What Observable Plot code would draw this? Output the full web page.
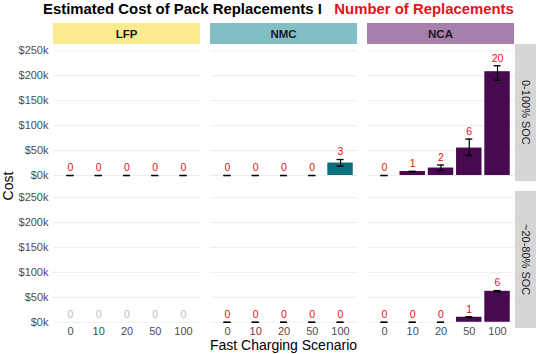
<!DOCTYPE html>
<html>
<head>
<meta charset="utf-8">
<script src="https://cdn.jsdelivr.net/npm/d3@7"></script>
<script src="https://cdn.jsdelivr.net/npm/@observablehq/plot@0.6"></script>
<style>
  html, body { margin: 0; padding: 0; background: #fff; }
  #wrap { position: relative; width: 537px; height: 354px; overflow: hidden; font-family: "Liberation Sans", Arial, sans-serif; }
  #wrap svg { position: absolute; left: 0; top: 0; }
  .title { position: absolute; top: 1px; left: 43px; font-size: 14.9px; font-weight: bold; line-height: 17px; white-space: pre; color: #000; }
  .title .red { color: #e8101a; }
  .strip { position: absolute; display: flex; align-items: center; justify-content: center; color: #1a1a1a; }
  .strip.top { font-size: 11.5px; font-weight: bold; }
  .strip.right { font-size: 11px; writing-mode: vertical-rl; background: #d6d6d6; }
  .axtitle { position: absolute; font-size: 14px; color: #000; white-space: nowrap; }
</style>
</head>
<body>
<div id="wrap"></div>
<script>
// ---- data ----
const scenarios = ["0", "10", "20", "50", "100"];
const chemistries = ["LFP", "NMC", "NCA"];
const socs = ["0-100% SOC", "~20-80% SOC"];
const stripColors = ["#fbeb8f", "#82bfc5", "#a680ab"];
const barColors = ["#e0c341", "#0c6f7b", "#480a4f"];

// panels in order: row 0-100% SOC (LFP, NMC, NCA), then row ~20-80% SOC (LFP, NMC, NCA)
const panelChem = ["LFP", "NMC", "NCA", "LFP", "NMC", "NCA"];
const panelSoc = ["0-100% SOC", "0-100% SOC", "0-100% SOC", "~20-80% SOC", "~20-80% SOC", "~20-80% SOC"];
// estimated cost, $k (null = not available)
const costK = [
  [0, 0, 0, 0, 0],
  [0, 0, 0, 0, 25],
  [0, 8, 15, 55, 208],
  [null, null, null, null, null],
  [0, 0, 0, 0, 0],
  [0, 0, 0, 10, 62]
];
const costLowK = [
  [0, 0, 0, 0, 0],
  [0, 0, 0, 0, 19],
  [0, 7.5, 10, 40, 191],
  [null, null, null, null, null],
  [0, 0, 0, 0, 0],
  [0, 0, 0, 9.5, 61]
];
const costHighK = [
  [0, 0, 0, 0, 0],
  [0, 0, 0, 0, 32],
  [0, 8.5, 21, 73, 220],
  [null, null, null, null, null],
  [0, 0, 0, 0, 0],
  [0, 0, 0, 11, 63.5]
];
const replacements = [
  [0, 0, 0, 0, 0],
  [0, 0, 0, 0, 3],
  [0, 1, 2, 6, 20],
  [0, 0, 0, 0, 0],
  [0, 0, 0, 0, 0],
  [0, 0, 0, 1, 6]
];
const yTicks = [0, 50000, 100000, 150000, 200000, 250000];

// ---- table ----
const rows = [];
panelChem.forEach((chem, p) => {
  scenarios.forEach((scen, i) => {
    const c = costK[p][i];
    rows.push({
      chem, soc: panelSoc[p], scen,
      missing: c == null,
      cost: c == null ? 0 : c * 1000,
      lo: c == null ? 0 : costLowK[p][i] * 1000,
      hi: c == null ? 0 : costHighK[p][i] * 1000,
      n: replacements[p][i]
    });
  });
});
const valid = rows.filter(d => !d.missing);
const missing = rows.filter(d => d.missing);

// ---- layout ----
const W = 537, H = 354;
const mL = 53, mR = 23, mT = 44, mB = 26;
const innerW = W - mL - mR, innerH = H - mT - mB;
const gapX = 10, gapY = 9.5;
const pX = 3 * gapX / (innerW + gapX);
const pY = 2 * gapY / (innerH + gapY);

const plot = Plot.plot({
  width: W, height: H,
  marginLeft: mL, marginRight: mR, marginTop: mT, marginBottom: mB,
  style: { fontFamily: "Liberation Sans, Arial, sans-serif", fontSize: "11px", color: "#4d4d4d", background: "transparent" },
  fx: { domain: chemistries, axis: null, paddingInner: pX, paddingOuter: 0, round: false },
  fy: { domain: socs, axis: null, paddingInner: pY, paddingOuter: 0, round: false },
  x: { domain: scenarios, paddingInner: 0.1, paddingOuter: 0.15, round: false, label: null, tickSize: 0, tickPadding: -1 },
  y: { domain: [-12500, 262500], ticks: yTicks, tickFormat: d => "$" + d / 1000 + "k", grid: true, label: null, tickSize: 0, tickPadding: 5 },
  color: { domain: chemistries, range: barColors },
  marks: [
    Plot.barY(valid, { fx: "chem", fy: "soc", x: "scen", y: "cost", fill: "chem" }),
    Plot.ruleX(valid, { fx: "chem", fy: "soc", x: "scen", y1: "lo", y2: "hi", stroke: "#000", strokeWidth: 1.2 }),
    Plot.tickY(valid, { fx: "chem", fy: "soc", x: "scen", y: "lo", stroke: "#000", strokeWidth: 1.3, insetLeft: 9.2, insetRight: 9.2 }),
    Plot.tickY(valid, { fx: "chem", fy: "soc", x: "scen", y: "hi", stroke: "#000", strokeWidth: 1.3, insetLeft: 9.2, insetRight: 9.2 }),
    Plot.text(valid, { fx: "chem", fy: "soc", x: "scen", y: "hi", text: d => String(d.n), dy: -7.5, lineAnchor: "middle", fill: "#e8101a", fontSize: 10.5 }),
    Plot.text(missing, { fx: "chem", fy: "soc", x: "scen", y: "hi", text: d => String(d.n), dy: -7.5, lineAnchor: "middle", fill: "#bdbdbd", fontSize: 10.5 })
  ]
});

const wrap = document.getElementById("wrap");
wrap.appendChild(plot);

// title
const title = document.createElement("div");
title.className = "title";
title.innerHTML = 'Estimated Cost of Pack Replacements I   <span class="red">Number of Replacements</span>';
wrap.appendChild(title);

// strips (positions from the same facet band layout)
const stepX = innerW / (3 - pX), bwX = stepX * (1 - pX);
const stepY = innerH / (2 - pY), bwY = stepY * (1 - pY);
chemistries.forEach((c, j) => {
  const s = document.createElement("div");
  s.className = "strip top";
  s.style.left = (mL + j * stepX) + "px";
  s.style.width = bwX + "px";
  s.style.top = "23px";
  s.style.height = (mT - 23) + "px";
  s.style.background = stripColors[j];
  s.textContent = c;
  wrap.appendChild(s);
});
socs.forEach((sname, k) => {
  const s = document.createElement("div");
  s.className = "strip right";
  s.style.left = (W - mR + 1) + "px";
  s.style.width = "21px";
  s.style.top = (mT + k * stepY) + "px";
  s.style.height = bwY + "px";
  s.textContent = sname;
  wrap.appendChild(s);
});

// axis titles
const xt = document.createElement("div");
xt.className = "axtitle";
xt.textContent = "Fast Charging Scenario";
xt.style.top = "337px";
xt.style.left = (mL + innerW / 2) + "px";
xt.style.transform = "translateX(-50%)";
xt.style.lineHeight = "16px";
wrap.appendChild(xt);

const yt = document.createElement("div");
yt.className = "axtitle";
yt.textContent = "Cost";
yt.style.lineHeight = "16px";
yt.style.left = "8px";
yt.style.top = (mT + innerH / 2) + "px";
yt.style.transform = "translate(-50%, -50%) rotate(-90deg)";
wrap.appendChild(yt);
</script>
</body>
</html>
